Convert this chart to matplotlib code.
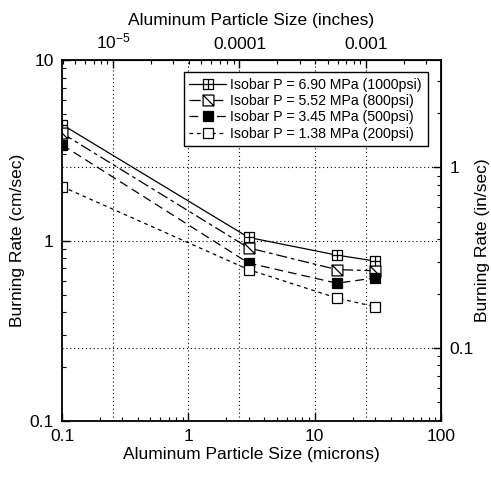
import matplotlib.pyplot as plt
from matplotlib.path import Path
from matplotlib.ticker import LogLocator, NullFormatter, FixedLocator, FuncFormatter

plt.rcParams['font.family'] = ['Liberation Sans', 'DejaVu Sans']

# particle size (microns)
sizes = [0.1, 3, 15, 30]
# burning rate (cm/sec) at each isobar
rate_1000 = [4.39, 1.04, 0.83, 0.77]
rate_800 = [3.93, 0.91, 0.69, 0.68]
rate_500 = [3.39, 0.75, 0.58, 0.62]
rate_200 = [1.99, 0.69, 0.48, 0.43]
labels = ['Isobar P = 6.90 MPa (1000psi)', 'Isobar P = 5.52 MPa (800psi)',
          'Isobar P = 3.45 MPa (500psi)', 'Isobar P = 1.38 MPa (200psi)']

inch_ticks = [1e-5, 1e-4, 1e-3]
inps_ticks = [0.1, 1]
MICRON_PER_INCH = 25400.0
CM_PER_INCH = 2.54

# custom markers: boxed plus, boxed diagonal
sq = [(-1, -1), (1, -1), (1, 1), (-1, 1), (-1, -1)]
sq_codes = [Path.MOVETO] + [Path.LINETO] * 3 + [Path.CLOSEPOLY]
box_plus = Path(sq + [(0, -1), (0, 1), (-1, 0), (1, 0)],
                sq_codes + [Path.MOVETO, Path.LINETO, Path.MOVETO, Path.LINETO])
box_diag = Path(sq + [(-1, 1), (1, -1)],
                sq_codes + [Path.MOVETO, Path.LINETO])

fs = 12.5
fig = plt.figure(figsize=(4.91, 4.79), dpi=100)
ax = fig.add_axes([0.1263, 0.1211, 0.7717, 0.7536])

ms = 7.8
ax.plot(sizes, rate_1000, color='black', lw=0.9, ls='-', marker=box_plus,
        ms=ms, mfc='white', mec='black', mew=0.9, label=labels[0])
ax.plot(sizes, rate_800, color='black', lw=0.9, ls=(0, (9, 3, 3, 3)), marker=box_diag,
        ms=ms, mfc='white', mec='black', mew=0.9, label=labels[1])
ax.plot(sizes, rate_500, color='black', lw=0.9, ls=(0, (7, 4)), marker='s',
        ms=ms, mfc='black', mec='black', mew=0.9, label=labels[2])
ax.plot(sizes, rate_200, color='black', lw=0.9, ls=(0, (3, 3)), marker='s',
        ms=ms, mfc='white', mec='black', mew=0.9, label=labels[3])

ax.set_xscale('log')
ax.set_yscale('log')
ax.set_xlim(0.1, 100)
ax.set_ylim(0.1, 10)
ax.xaxis.set_major_formatter(FuncFormatter(lambda v, p: '%g' % v))
ax.yaxis.set_major_formatter(FuncFormatter(lambda v, p: '%g' % v))
ax.xaxis.set_minor_formatter(NullFormatter())
ax.yaxis.set_minor_formatter(NullFormatter())
ax.tick_params(which='both', direction='in', labelsize=fs, pad=6)
ax.tick_params(which='major', length=6, width=1)
ax.tick_params(which='minor', length=3, width=0.8)
for s in ax.spines.values():
    s.set_linewidth(1.3)

# grid for both unit systems
grid_kw = dict(color='black', lw=0.8, ls=(0, (1, 2.5)), zorder=0)
for v in [1, 10]:
    ax.axvline(v, **grid_kw)
for v in inch_ticks:
    ax.axvline(v * MICRON_PER_INCH, **grid_kw)
ax.axhline(1, **grid_kw)
for v in inps_ticks:
    ax.axhline(v * CM_PER_INCH, **grid_kw)

ax.set_xlabel('Aluminum Particle Size (microns)', fontsize=fs, labelpad=2)
ax.set_ylabel('Burning Rate (cm/sec)', fontsize=fs, labelpad=3)

top = ax.secondary_xaxis('top', functions=(lambda x: x / MICRON_PER_INCH,
                                           lambda x: x * MICRON_PER_INCH))
top.xaxis.set_major_locator(FixedLocator(inch_ticks))
top.xaxis.set_minor_locator(LogLocator(base=10, subs=range(2, 10)))
top.xaxis.set_minor_formatter(NullFormatter())
top.xaxis.set_major_formatter(FuncFormatter(
    lambda v, p: r'$\mathregular{10^{-5}}$' if abs(v - 1e-5) < 1e-9 else '%g' % v))
top.tick_params(which='both', direction='in', labelsize=fs, pad=6)
top.tick_params(which='major', length=6, width=1)
top.tick_params(which='minor', length=3, width=0.8)
top.set_xlabel('Aluminum Particle Size (inches)', fontsize=fs, labelpad=5)

right = ax.secondary_yaxis('right', functions=(lambda y: y / CM_PER_INCH,
                                               lambda y: y * CM_PER_INCH))
right.yaxis.set_major_locator(FixedLocator(inps_ticks))
right.yaxis.set_minor_locator(LogLocator(base=10, subs=range(2, 10)))
right.yaxis.set_minor_formatter(NullFormatter())
right.yaxis.set_major_formatter(FuncFormatter(lambda v, p: '%g' % v))
right.tick_params(which='both', direction='in', labelsize=fs, pad=6)
right.tick_params(which='major', length=6, width=1)
right.tick_params(which='minor', length=3, width=0.8)
right.set_ylabel('Burning Rate (in/sec)', fontsize=fs, labelpad=1)

leg = ax.legend(loc='upper right', bbox_to_anchor=(0.965, 0.967), fontsize=10.2,
                frameon=True, fancybox=False, edgecolor='black', framealpha=1,
                handlelength=2.6, handletextpad=0.3, borderpad=0.4,
                labelspacing=0.17, borderaxespad=0)
leg.get_frame().set_linewidth(1)

fig.savefig('out.png', dpi=100)
